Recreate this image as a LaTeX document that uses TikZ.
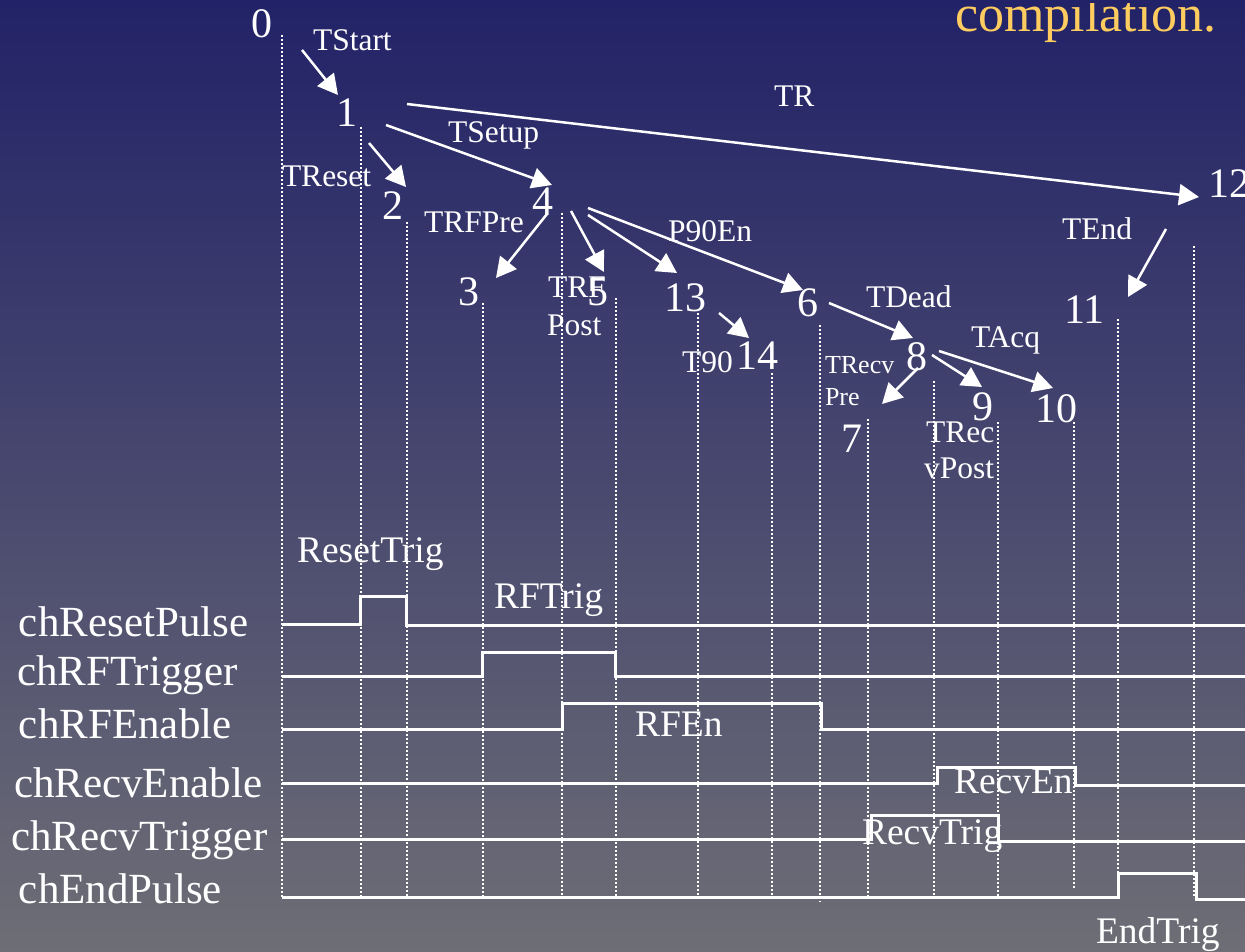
\documentclass[tikz,border=0pt]{standalone}
\usepackage{fontspec}
\setmainfont{Liberation Serif}
\usetikzlibrary{arrows.meta}
\definecolor{bgtop}{RGB}{34,34,104}
\definecolor{bgbot}{RGB}{110,110,118}
\definecolor{titlecol}{RGB}{255,204,96}
\begin{document}
\begin{tikzpicture}[x=1pt,y=-1pt,
  every node/.style={inner sep=0pt, outer sep=0pt, text=white, anchor=base west},
  num/.style={font=\fontsize{42}{46}\selectfont},
  tlab/.style={font=\fontsize{31.5}{36}\selectfont},
  tsmall/.style={font=\fontsize{26}{30}\selectfont},
  chan/.style={font=\fontsize{43}{47}\selectfont},
  siglab/.style={font=\fontsize{37.5}{42}\selectfont},
  arr/.style={draw=white, line width=2.5pt, -{Triangle[length=20pt,width=21pt]}},
  wave/.style={draw=white, line width=3pt, line join=miter},
  guide/.style={draw=white, line width=1.5pt, dash pattern=on 2pt off 2pt}
]
% background
\useasboundingbox (0,0) rectangle (1245,952);
\shade[top color=bgtop, bottom color=bgbot] (0,0) rectangle (1245,952);

% title fragment, its upper edge cut by the frame
\begin{scope}
  \clip (900,4) rectangle (1245,70);
  \node[font=\fontsize{52}{58}\selectfont, text=titlecol] (title) at (955,32) {compilation.};
\end{scope}

% vertical dotted time markers
\foreach \gx/\gt/\gb in {282/35/898, 361/127/898, 407/222/898, 483/303/898,
  562/213/898, 616/298/898, 698/313/898, 772/373/898, 820/325/902,
  868/419/898, 934/381/898, 998/422/898, 1074/422/888, 1118/319/873,
  1194/246/898}
  \draw[guide] (\gx,\gt) -- (\gx,\gb);

% channel waveforms
\draw[wave] (282,624) -- (360,624) -- (360,596) -- (406,596) -- (406,625) -- (1245,625);
\draw[wave] (282,676) -- (482,676) -- (482,652) -- (615,652) -- (615,676) -- (1245,676);
\draw[wave] (282,729) -- (562,729) -- (562,703) -- (821,703) -- (821,729) -- (1245,729);
\draw[wave] (282,783) -- (937,783) -- (937,767) -- (1075,767) -- (1075,785) -- (1245,785);
\draw[wave] (282,839) -- (871,839) -- (871,815) -- (998,815) -- (998,841) -- (1245,841);
\draw[wave] (282,897) -- (1118,897) -- (1118,873) -- (1196,873) -- (1196,899) -- (1245,899);

% time points
\node[num] (n0)  at (251,38)  {0};
\node[num] (n1)  at (336,127) {1};
\node[num] (n2)  at (382,220) {2};
\node[num] (n3)  at (458,305) {3};
\node[num] (n4)  at (532,215) {4};
\node[num] (n5)  at (587,305) {5};
\node[num] (n13) at (664,311) {13};
\node[num] (n14) at (736,369) {14};
\node[num] (n6)  at (797,316) {6};
\node[num] (n7)  at (841,452) {7};
\node[num] (n8)  at (906,370) {8};
\node[num] (n9)  at (972,420) {9};
\node[num] (n10) at (1035,422) {10};
\node[num] (n11) at (1064,323) {11};
\node[num] (n12) at (1208,198) {12};

% interval labels
\node[tlab] (lTStart) at (313,51)  {TStart};
\node[tlab] (lTR)     at (774,107) {TR};
\node[tlab] (lTSetup) at (448,143) {TSetup};
\node[tlab] (lTReset) at (282,187) {TReset};
\node[tlab] (lTRFPre) at (424,233) {TRFPre};
\node[tlab] (lP90En)  at (668,241) {P90En};
\node[tlab] (lTRF)    at (548,297) {TRF};
\node[tlab] (lPost)   at (547,335) {Post};
\node[tlab] (lT90)    at (682,372) {T90};
\node[tlab] (lTDead)  at (866,307) {TDead};
\node[tlab] (lTAcq)   at (971,347) {TAcq};
\node[tsmall] (lTRecv) at (825,373) {TRecv};
\node[tsmall] (lPre)   at (825,405) {Pre};
\node[tlab] (lTRec)   at (926,442) {TRec};
\node[tlab] (lvPost)  at (924,478) {vPost};
\node[tlab] (lTEnd)   at (1062,240) {TEnd};

% arrow end points
\coordinate (s01) at (302,50);    \coordinate (e01) at (338,95);
\coordinate (s112) at (407,104);  \coordinate (e112) at (1199,197);
\coordinate (s14) at (386,125);   \coordinate (e14) at (552,185);
\coordinate (s12) at (369,143);   \coordinate (e12) at (406,187);
\coordinate (s43) at (547,214);   \coordinate (e43) at (496,278);
\coordinate (s45) at (571,211);   \coordinate (e45) at (604,272);
\coordinate (s413) at (588,215);  \coordinate (e413) at (677,273);
\coordinate (s46) at (588,208);   \coordinate (e46) at (803,290);
\coordinate (s1314) at (719,313); \coordinate (e1314) at (749,338);
\coordinate (s68) at (829,303);   \coordinate (e68) at (913,338);
\coordinate (s87) at (918,368);   \coordinate (e87) at (882,404);
\coordinate (s89) at (932,355);   \coordinate (e89) at (982,387);
\coordinate (s810) at (939,351);  \coordinate (e810) at (1053,388);
\coordinate (s1211) at (1166,229); \coordinate (e1211) at (1128,297);

\draw[arr] (s01) -- (e01);
\draw[arr] (s112) -- (e112);
\draw[arr] (s14) -- (e14);
\draw[arr] (s12) -- (e12);
\draw[arr] (s43) -- (e43);
\draw[arr] (s45) -- (e45);
\draw[arr] (s413) -- (e413);
\draw[arr] (s46) -- (e46);
\draw[arr] (s1314) -- (e1314);
\draw[arr] (s68) -- (e68);
\draw[arr] (s87) -- (e87);
\draw[arr] (s89) -- (e89);
\draw[arr] (s810) -- (e810);
\draw[arr] (s1211) -- (e1211);

% signal names
\node[siglab] (lResetTrig) at (297,562) {ResetTrig};
\node[siglab] (lRFTrig)    at (494,608) {RFTrig};
\node[siglab] (lRFEn)      at (635,736) {RFEn};
\node[siglab] (lRecvEn)    at (954,793) {RecvEn};
\node[siglab] (lRecvTrig)  at (862,844) {RecvTrig};
\node[siglab] (lEndTrig)   at (1096,943) {EndTrig};

% channel names
\node[chan] (cReset)    at (19,636) {chResetPulse};
\node[chan] (cRFTrig)   at (17,685) {chRFTrigger};
\node[chan] (cRFEn)     at (19,738) {chRFEnable};
\node[chan] (cRecvEn)   at (14,797) {chRecvEnable};
\node[chan] (cRecvTrig) at (11,850) {chRecvTrigger};
\node[chan] (cEnd)      at (19,903) {chEndPulse};
\end{tikzpicture}
\end{document}
